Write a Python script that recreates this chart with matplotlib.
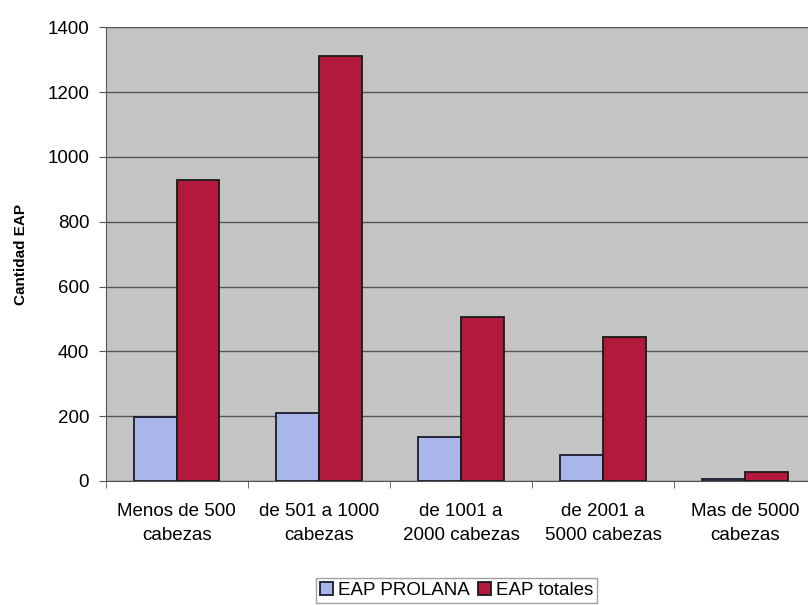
import matplotlib
matplotlib.use("Agg")
import matplotlib.pyplot as plt
import numpy as np

plt.rcParams['font.family'] = ['Liberation Sans', 'DejaVu Sans']

categorias = ["Menos de 500\ncabezas", "de 501 a 1000\ncabezas", "de 1001 a\n2000 cabezas",
              "de 2001 a\n5000 cabezas", "Mas de 5000\ncabezas"]
prolana = [197, 210, 135, 80, 6]
totales = [930, 1310, 505, 443, 28]

fig = plt.figure(figsize=(8.08, 6.05), dpi=100)
ax = fig.add_axes([0.131, 0.205, 0.879, 0.75])
ax.set_facecolor('#c4c4c4')

x = np.arange(len(categorias))
w = 0.3
ax.bar(x - w/2, prolana, w, color='#a8b6ea', edgecolor='#1a1a2a', linewidth=1.3,
       label='EAP PROLANA', zorder=3)
ax.bar(x + w/2, totales, w, color='#b3193a', edgecolor='#1a1a1a', linewidth=1.3,
       label='EAP totales', zorder=3)

ax.set_xlim(-0.5, len(categorias) - 0.5)
ax.set_ylim(0, 1400)
ax.set_yticks(range(0, 1401, 200))
ax.yaxis.grid(True, color='#555555', linewidth=1.0, zorder=1)
ax.set_xticks(np.arange(len(categorias) + 1) - 0.5, minor=True)
ax.set_xticks(x)
ax.set_xticklabels(categorias, fontsize=13.5, linespacing=1.5)
ax.tick_params(axis='x', which='major', length=0, pad=16)
ax.tick_params(axis='x', which='minor', length=5, color='#555555')
ax.tick_params(axis='y', length=5, color='#555555', labelsize=13.5, pad=7)

for s in ['top', 'right']:
    ax.spines[s].set_visible(False)
ax.spines['left'].set_color('#555555')
ax.spines['bottom'].set_color('#555555')

ax.set_ylabel('Cantidad EAP', fontsize=11, fontweight='bold', labelpad=14)

fig.legend(loc='lower center', bbox_to_anchor=(0.565, -0.012), ncol=2, fontsize=13.5,
           frameon=True, fancybox=False, edgecolor='#888888', handlelength=0.7,
           handleheight=0.7, handletextpad=0.3, columnspacing=0.4, borderpad=0.2)

fig.savefig('out.png', dpi=100)
